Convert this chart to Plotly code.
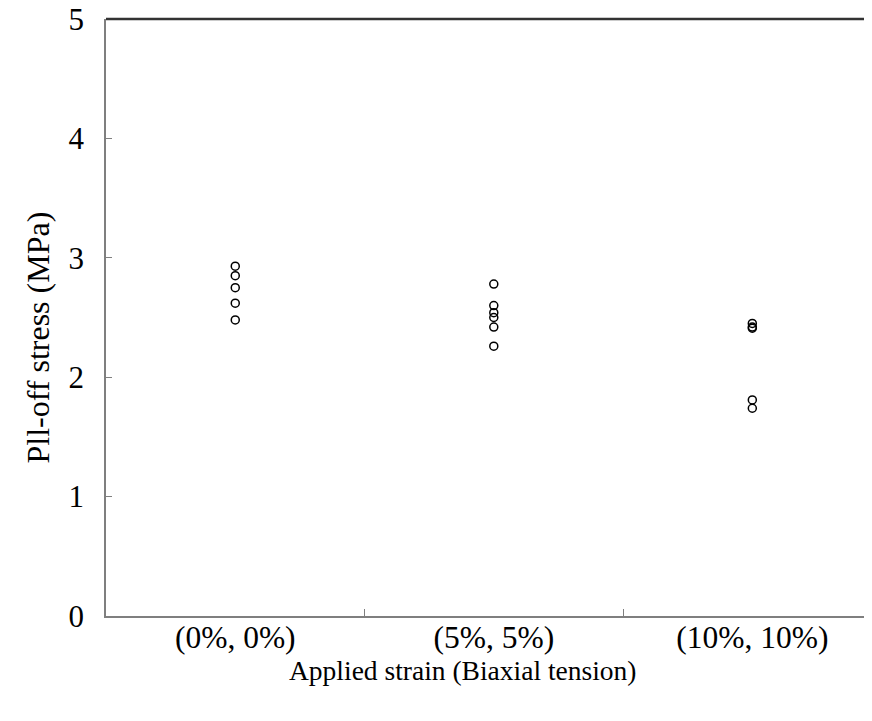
import plotly.graph_objects as go

categories = ["(0%, 0%)", "(5%, 5%)", "(10%, 10%)"]
stress_0 = [2.93, 2.85, 2.75, 2.62, 2.48]
stress_5 = [2.78, 2.60, 2.54, 2.50, 2.42, 2.26]
stress_10 = [2.45, 2.42, 2.41, 1.81, 1.74]
y_ticks = [0, 1, 2, 3, 4, 5]
x_title = "Applied strain (Biaxial tension)"
y_title = "Pll-off stress (MPa)"

groups = [stress_0, stress_5, stress_10]
xs, ys = [], []
for cat, vals in zip(categories, groups):
    xs += [cat] * len(vals)
    ys += vals

fig = go.Figure()
fig.add_trace(go.Scatter(
    x=xs, y=ys, mode="markers",
    marker=dict(symbol="circle-open", size=8, color="black", line=dict(width=1.5, color="black")),
    showlegend=False,
))

font = "Liberation Serif, Times New Roman, serif"
fig.update_layout(
    width=856, height=705,
    margin=dict(l=98, r=0, t=11, b=97),
    plot_bgcolor="white", paper_bgcolor="white",
    font=dict(family=font, size=26, color="black"),
    xaxis=dict(
        type="category", categoryorder="array", categoryarray=categories,
        range=[-0.5, 2.432], automargin=False,
        showline=True, linecolor="#7f7f7f", linewidth=1.5,
        ticks="inside", tickson="boundaries", ticklen=7, tickcolor="#7f7f7f", tickwidth=1,
        showgrid=False, zeroline=False,
        tickfont=dict(family=font, size=31.5), ticklabelstandoff=-8,
    ),
    yaxis=dict(
        range=[0, 5], tickvals=y_ticks, automargin=False,
        showline=True, linecolor="#7f7f7f", linewidth=1.5,
        ticks="inside", ticklen=6, tickcolor="#7f7f7f", tickwidth=1,
        showgrid=False, zeroline=False, ticklabeloverflow="allow",
        tickfont=dict(family=font, size=31), ticklabelstandoff=14,
    ),
    annotations=[
        dict(text=x_title, xref="paper", yref="paper", x=0.4716, y=-0.0921,
             xanchor="center", yanchor="middle", showarrow=False,
             font=dict(family=font, size=27.5, color="black")),
        dict(text=y_title, xref="paper", yref="paper", x=-0.0897, y=0.4665,
             xanchor="center", yanchor="middle", showarrow=False, textangle=-90,
             font=dict(family=font, size=32, color="black")),
    ],
    shapes=[dict(type="line", xref="paper", yref="paper", x0=0, x1=1, y0=1, y1=1,
                 line=dict(color="#333333", width=2.5))],
)

fig.write_html("out.html")
